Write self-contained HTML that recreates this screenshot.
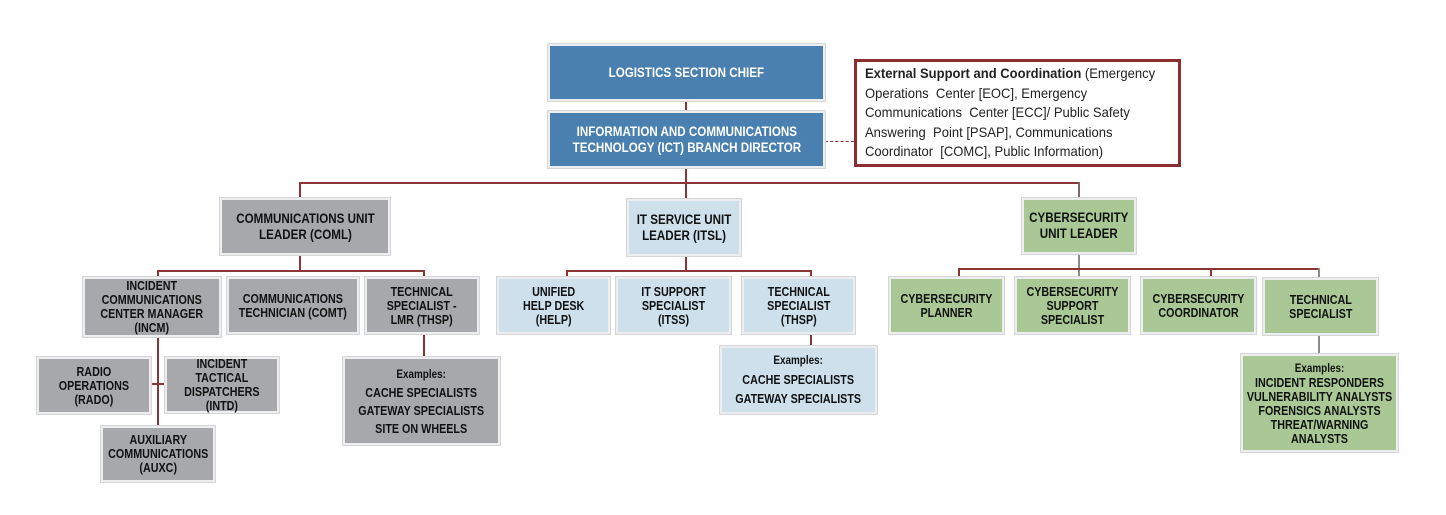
<!DOCTYPE html>
<html><head><meta charset="utf-8"><style>
body{margin:0;width:1446px;height:515px;background:#fff;position:relative;overflow:hidden;font-family:"Liberation Sans",Arial,sans-serif;}
.b{position:absolute;box-sizing:border-box;border:2px solid #eceef0;display:flex;align-items:center;justify-content:center;text-align:center;font-weight:bold;font-size:12.5px;line-height:14px;color:#111;box-shadow:0 0 0 1px #d6d6d6;}
.b>span{display:inline-block;white-space:nowrap;transform:scaleX(.86);flex-shrink:0;}
.bl{background:#4a80b0;color:#fff;font-size:13.5px;line-height:16px;}
.g{background:#a6a8ab;}
.lb{background:#cde0ec;}
.gr{background:#aac895;}
.l{position:absolute;background:#8b3535;}
.v{width:2px;}
.h{height:2px;}
.ex{line-height:18px;}
small{font-size:11.5px;font-weight:bold;}
</style></head><body>
<div class="l v" style="left:685px;top:101px;height:10px"></div>
<div class="l v" style="left:685px;top:168px;height:30px"></div>
<div class="l h" style="left:300px;top:182px;width:780px"></div>
<div class="l v" style="left:299px;top:182px;height:16px"></div>
<div class="l v" style="left:1078px;top:182px;height:16px;background:#7b6a6a"></div>
<div style="position:absolute;left:825px;top:141px;width:29px;border-top:1px dashed #8b3535"></div>

<div class="l v" style="left:299px;top:255px;height:16px"></div>
<div class="l h" style="left:157px;top:270px;width:268px"></div>
<div class="l v" style="left:157px;top:270px;height:7px"></div>
<div class="l v" style="left:423px;top:270px;height:7px"></div>
<div class="l v" style="left:157px;top:337px;height:89px"></div>
<div class="l h" style="left:151px;top:383px;width:14px"></div>
<div class="l v" style="left:423px;top:334px;height:23px"></div>

<div class="l v" style="left:685px;top:256px;height:15px"></div>
<div class="l h" style="left:566px;top:270px;width:246px"></div>
<div class="l v" style="left:566px;top:270px;height:7px"></div>
<div class="l v" style="left:810px;top:270px;height:7px"></div>
<div class="l v" style="left:810px;top:334px;height:12px"></div>

<div class="l v" style="left:1078px;top:254px;height:22px;background:#8a8a8a"></div>
<div class="l h" style="left:958px;top:268px;width:362px"></div>
<div class="l v" style="left:958px;top:268px;height:9px"></div>
<div class="l v" style="left:1210px;top:268px;height:9px"></div>
<div class="l v" style="left:1318px;top:268px;height:10px;background:#8a8a8a"></div>
<div class="l v" style="left:1318px;top:335px;height:19px;background:#8a8a8a"></div>

<div class="b bl" style="left:548px;top:44px;width:277px;height:57px"><span>LOGISTICS SECTION CHIEF</span></div>
<div class="b bl" style="left:548px;top:111px;width:277px;height:57px"><span>INFORMATION AND COMMUNICATIONS<br>TECHNOLOGY (ICT) BRANCH DIRECTOR</span></div>
<div style="position:absolute;left:854px;top:59px;width:327px;height:108px;box-sizing:border-box;border:3px solid #8b2e2e;"></div>
<div style="position:absolute;left:865px;top:64px;white-space:nowrap;transform:scaleX(.93);transform-origin:0 0;font-size:14px;line-height:19.5px;color:#222;"><b>External Support and Coordination</b> (Emergency<br>Operations&nbsp; Center [EOC], Emergency<br>Communications&nbsp; Center [ECC]/ Public Safety<br>Answering&nbsp; Point [PSAP], Communications<br>Coordinator&nbsp; [COMC], Public Information)</div>

<div class="b g" style="left:220px;top:198px;width:170px;height:57px;font-size:13.5px;line-height:16px"><span>COMMUNICATIONS UNIT<br>LEADER (COML)</span></div>
<div class="b g" style="left:83px;top:277px;width:138px;height:60px"><span>INCIDENT<br>COMMUNICATIONS<br>CENTER MANAGER<br>(INCM)</span></div>
<div class="b g" style="left:227px;top:277px;width:132px;height:57px"><span>COMMUNICATIONS<br>TECHNICIAN (COMT)</span></div>
<div class="b g" style="left:365px;top:277px;width:114px;height:57px"><span>TECHNICAL<br>SPECIALIST -<br>LMR (THSP)</span></div>
<div class="b g" style="left:37px;top:357px;width:114px;height:57px"><span>RADIO<br>OPERATIONS<br>(RADO)</span></div>
<div class="b g" style="left:165px;top:357px;width:114px;height:56px"><span>INCIDENT<br>TACTICAL<br>DISPATCHERS<br>(INTD)</span></div>
<div class="b g" style="left:101px;top:426px;width:114px;height:56px"><span>AUXILIARY<br>COMMUNICATIONS<br>(AUXC)</span></div>
<div class="b g ex" style="left:343px;top:357px;width:157px;height:88px"><span><small>Examples:</small><br>CACHE SPECIALISTS<br>GATEWAY SPECIALISTS<br>SITE ON WHEELS</span></div>

<div class="b lb" style="left:627px;top:199px;width:114px;height:57px;font-size:13.5px;line-height:16px"><span>IT SERVICE UNIT<br>LEADER (ITSL)</span></div>
<div class="b lb" style="left:497px;top:277px;width:113px;height:57px"><span>UNIFIED<br>HELP DESK<br>(HELP)</span></div>
<div class="b lb" style="left:616px;top:277px;width:115px;height:57px"><span>IT SUPPORT<br>SPECIALIST<br>(ITSS)</span></div>
<div class="b lb" style="left:742px;top:277px;width:113px;height:57px"><span>TECHNICAL<br>SPECIALIST<br>(THSP)</span></div>
<div class="b lb ex" style="left:720px;top:346px;width:157px;height:68px;line-height:19px"><span><small>Examples:</small><br>CACHE SPECIALISTS<br>GATEWAY SPECIALISTS</span></div>

<div class="b gr" style="left:1022px;top:198px;width:114px;height:56px;font-size:13.5px;line-height:16px"><span>CYBERSECURITY<br>UNIT LEADER</span></div>
<div class="b gr" style="left:889px;top:277px;width:115px;height:57px"><span>CYBERSECURITY<br>PLANNER</span></div>
<div class="b gr" style="left:1015px;top:277px;width:115px;height:57px"><span>CYBERSECURITY<br>SUPPORT<br>SPECIALIST</span></div>
<div class="b gr" style="left:1141px;top:277px;width:115px;height:57px"><span>CYBERSECURITY<br>COORDINATOR</span></div>
<div class="b gr" style="left:1263px;top:278px;width:115px;height:57px"><span>TECHNICAL<br>SPECIALIST</span></div>
<div class="b gr" style="left:1241px;top:354px;width:157px;height:98px"><span><small>Examples:</small><br>INCIDENT RESPONDERS<br>VULNERABILITY ANALYSTS<br>FORENSICS ANALYSTS<br>THREAT/WARNING<br>ANALYSTS</span></div>
</body></html>
